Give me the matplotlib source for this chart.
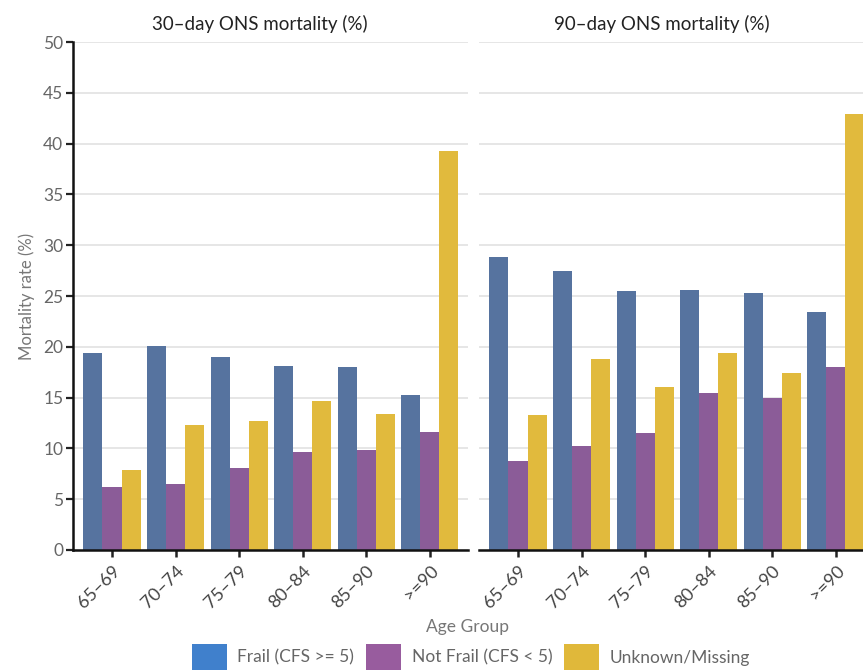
import matplotlib
matplotlib.use("Agg")
import matplotlib.pyplot as plt
from matplotlib.patches import Patch
import numpy as np

plt.rcParams['font.family'] = ['Lato', 'DejaVu Sans']

age_groups = ["65–69", "70–74", "75–79", "80–84", "85–90", ">=90"]
series_names = ["Frail (CFS >= 5)", "Not Frail (CFS < 5)", "Unknown/Missing"]
panel_titles = ["30–day ONS mortality (%)", "90–day ONS mortality (%)"]

frail_30 = [19.4, 20.1, 19.0, 18.1, 18.0, 15.3]
notfrail_30 = [6.2, 6.5, 8.1, 9.6, 9.8, 11.6]
unknown_30 = [7.9, 12.3, 12.7, 14.7, 13.4, 39.3]

frail_90 = [28.8, 27.5, 25.5, 25.6, 25.3, 23.4]
notfrail_90 = [8.8, 10.2, 11.5, 15.5, 15.0, 18.0]
unknown_90 = [13.3, 18.8, 16.0, 19.4, 17.4, 42.9]

yticks = [0, 5, 10, 15, 20, 25, 30, 35, 40, 45, 50]

bar_colors = ["#56739f", "#8b5c98", "#e1ba3d"]
legend_colors = ["#4080cc", "#985c9e", "#e0b83a"]

W, H = 863, 670
fig = plt.figure(figsize=(W / 100, H / 100), dpi=100)

def px_axes(x0, x1, ytop, ybot):
    return [x0 / W, 1 - ybot / H, (x1 - x0) / W, (ybot - ytop) / H]

ax1 = fig.add_axes(px_axes(73, 468, 42, 550))
ax2 = fig.add_axes(px_axes(479, 874, 42, 550))

data = [[frail_30, notfrail_30, unknown_30], [frail_90, notfrail_90, unknown_90]]
x = np.arange(len(age_groups))
bw = 0.3
offsets = [-bw, 0, bw]

for k, ax in enumerate([ax1, ax2]):
    for s in range(3):
        ax.bar(x + offsets[s], data[k][s], width=bw, color=bar_colors[s], zorder=2, linewidth=0)
    ax.set_xlim(-0.613, 5.6)
    ax.set_ylim(0, 50)
    ax.set_yticks(yticks)
    ax.yaxis.grid(True, color="#e4e4e4", linewidth=1.3, zorder=0)
    ax.set_axisbelow(True)
    ax.set_xticks(x)
    ax.set_xticklabels(age_groups, rotation=45, ha='right', rotation_mode='anchor',
                       fontsize=13, color="#444444")
    for sp in ['top', 'right']:
        ax.spines[sp].set_visible(False)
    ax.spines['bottom'].set_linewidth(1.8)
    ax.spines['bottom'].set_color('#111111')
    ax.tick_params(axis='x', length=5, width=1.8, color='#222222', pad=4)
    ax.tick_params(axis='y', labelsize=12.5, labelcolor="#666666")

ax1.spines['left'].set_linewidth(1.8)
ax1.spines['left'].set_color('#111111')
ax1.tick_params(axis='y', length=5, width=1.6, color='#222222', pad=2)
ax1.set_ylabel("Mortality rate (%)", fontsize=12, color="#777777", labelpad=6)

ax2.spines['left'].set_visible(False)
ax2.tick_params(axis='y', length=0, labelleft=False)

fig.text(260 / W, 1 - 24 / H, panel_titles[0], ha='center', va='center', fontsize=13.5, color="#222222")
fig.text(662 / W, 1 - 24 / H, panel_titles[1], ha='center', va='center', fontsize=13.5, color="#222222")

fig.text(467 / W, 1 - 627 / H, "Age Group", ha='center', va='center', fontsize=12.5, color="#777777")

handles = [Patch(facecolor=c, edgecolor='none') for c in legend_colors]
fig.legend(handles, series_names, loc='center', bbox_to_anchor=(471 / W, 1 - 657 / H),
           ncol=3, frameon=False, fontsize=12.5, handlelength=2.0, handleheight=1.9,
           handletextpad=0.6, columnspacing=0.7, labelcolor="#666666")

fig.savefig("out.png", dpi=100)
